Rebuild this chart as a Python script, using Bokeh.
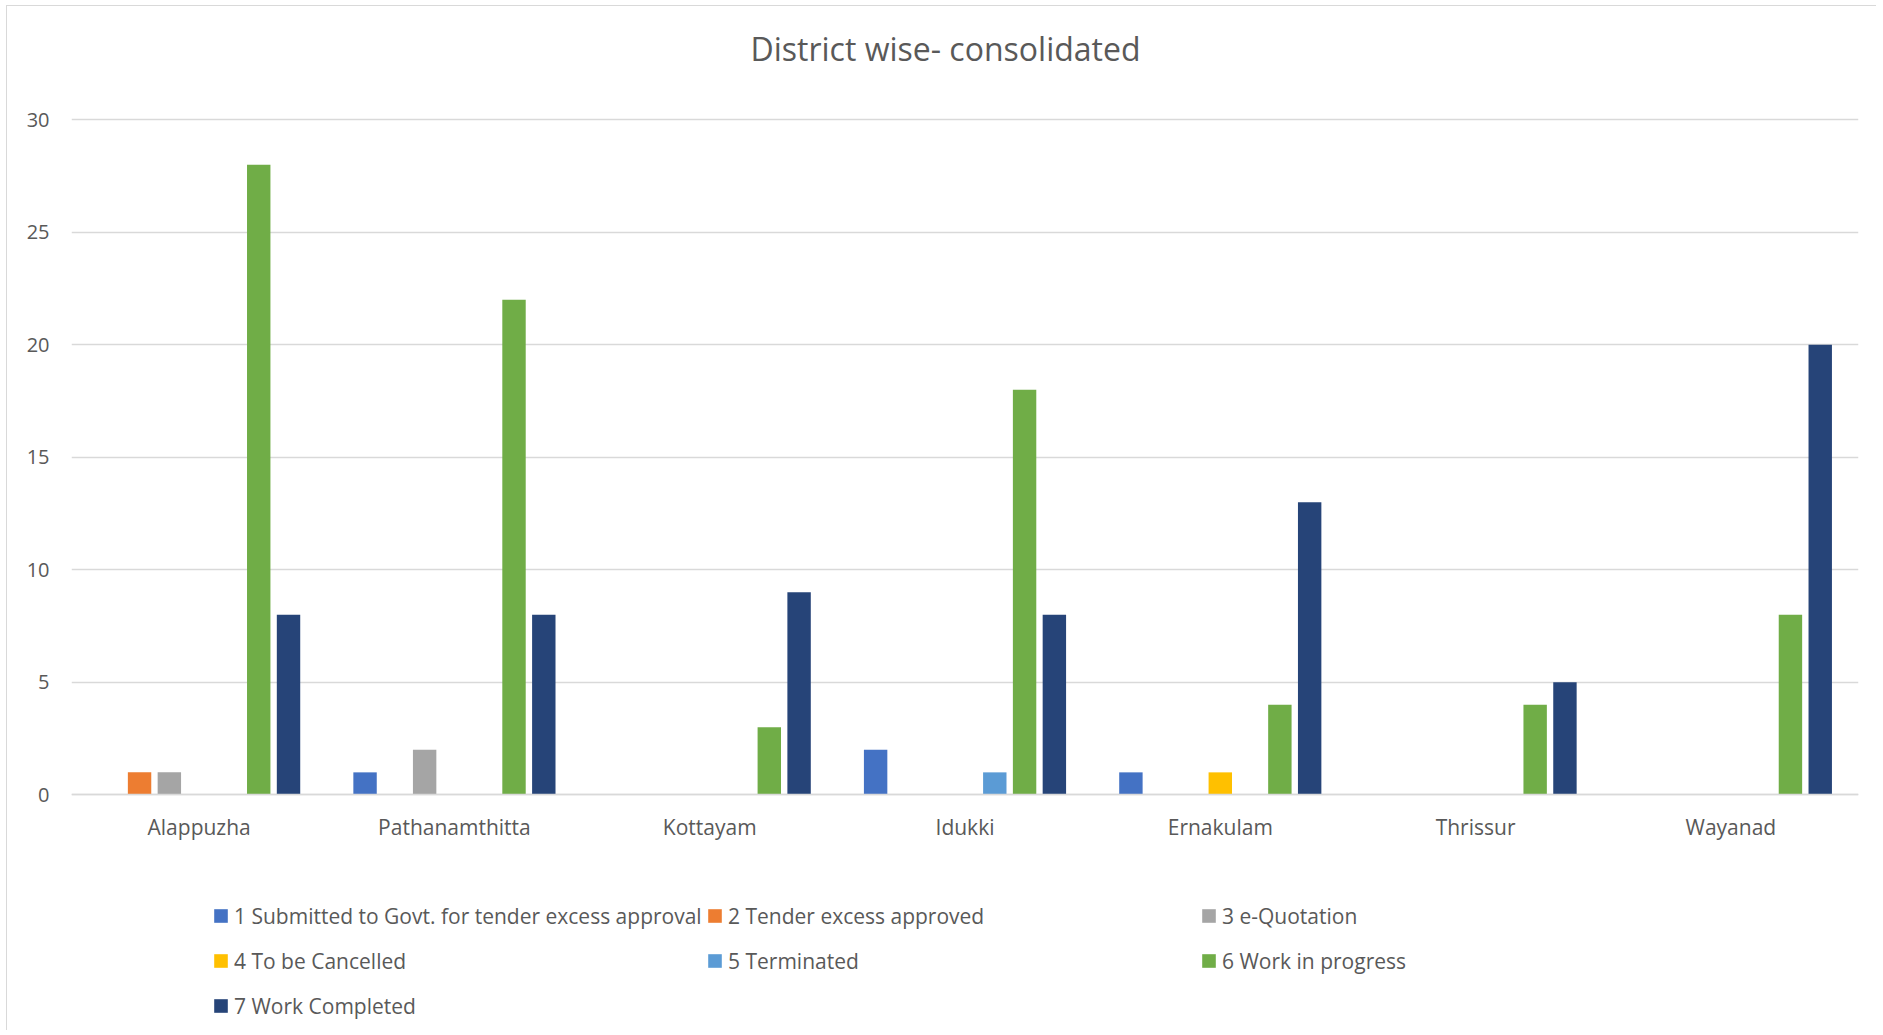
from bokeh.plotting import figure
from bokeh.models import ColumnDataSource, FactorRange, Legend, LegendItem
from bokeh.transform import dodge
from bokeh.embed import file_html
from bokeh.resources import INLINE

districts = ["Alappuzha", "Pathanamthitta", "Kottayam", "Idukki", "Ernakulam", "Thrissur", "Wayanad"]
series_names = [
    "1 Submitted to Govt. for tender excess approval",
    "2 Tender excess approved",
    "3 e-Quotation",
    "4 To be Cancelled",
    "5 Terminated",
    "6 Work in progress",
    "7 Work Completed",
]
s1 = [0, 1, 0, 2, 1, 0, 0]
s2 = [1, 0, 0, 0, 0, 0, 0]
s3 = [1, 2, 0, 0, 0, 0, 0]
s4 = [0, 0, 0, 0, 1, 0, 0]
s5 = [0, 0, 0, 1, 0, 0, 0]
s6 = [28, 22, 3, 18, 4, 4, 8]
s7 = [8, 8, 9, 8, 13, 5, 20]
colors = ["#4472C4", "#ED7D31", "#A5A5A5", "#FFC000", "#5B9BD5", "#70AD47", "#264478"]
y_ticks = [0, 5, 10, 15, 20, 25, 30]

FONT = "Open Sans"
TXT = "#595959"

# layout (page pixels)
TITLE_PX = 32
TITLE_STANDOFF = 40
FIG_TOP = 7
FIG_H = 1025
FRAME_TOP = FIG_TOP + TITLE_PX * 1.362 + TITLE_STANDOFF
FRAME_BOTTOM = FIG_TOP + FIG_H
Y30_PX, Y0_PX = 119.0, 795.0
ppu = (Y0_PX - Y30_PX) / 30.0
y_end = 30 + (Y30_PX - FRAME_TOP) / ppu
y_start = -(FRAME_BOTTOM - Y0_PX) / ppu

data = {"district": districts, "s1": s1, "s2": s2, "s3": s3, "s4": s4, "s5": s5, "s6": s6, "s7": s7}
src = ColumnDataSource(data)

p = figure(
    width=1870, height=FIG_H,
    x_range=FactorRange(factors=districts),
    y_range=(y_start, y_end),
    output_backend="svg", toolbar_location=None,
    title="District wise- consolidated",
    min_border_left=64, min_border_right=19, min_border_top=0, min_border_bottom=0,
)
p.styles = {"margin-left": "6px", "margin-top": "5px",
            "border-left": "1px solid #D9D9D9", "border-top": "1px solid #D9D9D9"}
p.title.align = "left"
p.title.offset = 679
p.title.vertical_align = "top"
p.title.text_font = FONT
p.title.text_font_size = "%dpx" % TITLE_PX
p.title.text_font_style = "normal"
p.title.text_color = TXT
p.title.standoff = TITLE_STANDOFF

p.outline_line_color = None
p.xgrid.grid_line_color = None
p.ygrid.grid_line_color = "#D9D9D9"
p.ygrid.grid_line_width = 1.5
p.yaxis.ticker = y_ticks
p.yaxis.axis_line_color = None
p.yaxis.major_tick_line_color = None
p.yaxis.minor_tick_line_color = None
p.yaxis.major_tick_out = 0
p.yaxis.major_tick_in = 0
p.yaxis.major_label_standoff = 22
p.xaxis.fixed_location = 0
p.xaxis.axis_line_color = "#D9D9D9"
p.xaxis.axis_line_width = 1.5
p.xaxis.major_tick_line_color = None
p.xaxis.minor_tick_line_color = None
p.xaxis.major_tick_out = 0
p.xaxis.major_tick_in = 0
p.xaxis.major_label_standoff = 18
p.xaxis.major_label_text_font_size = "21px"
p.yaxis.major_label_text_font_size = "20px"
for ax in (p.xaxis, p.yaxis):
    ax.major_label_text_font = FONT
    ax.major_label_text_color = TXT

step = 0.1167
width = 0.0917
renderers = []
for k in range(7):
    r = p.vbar(x=dodge("district", (k - 3) * step, range=p.x_range), top="s%d" % (k + 1),
               width=width, bottom=0, source=src, fill_color=colors[k], line_color=None)
    renderers.append(r)

columns = [[0, 3, 6], [1, 4], [2, 5]]
xs = [141, 635, 1129]
ROW_H = 45
LEG_BOTTOM = 3
for col, x0 in zip(columns, xs):
    items = [LegendItem(label=series_names[i], renderers=[renderers[i]]) for i in col]
    n = len(col)
    ybot = LEG_BOTTOM + (3 - n) * ROW_H
    lg = Legend(items=items, location=(x0, ybot), orientation="vertical",
                glyph_width=17, glyph_height=17, label_height=ROW_H, spacing=0,
                padding=0, margin=0, border_line_color=None, background_fill_alpha=0,
                label_standoff=5, label_text_font=FONT, label_text_font_size="21px",
                label_text_color=TXT)
    p.add_layout(lg, "center")

open("out.html", "w").write(file_html(p, INLINE))
